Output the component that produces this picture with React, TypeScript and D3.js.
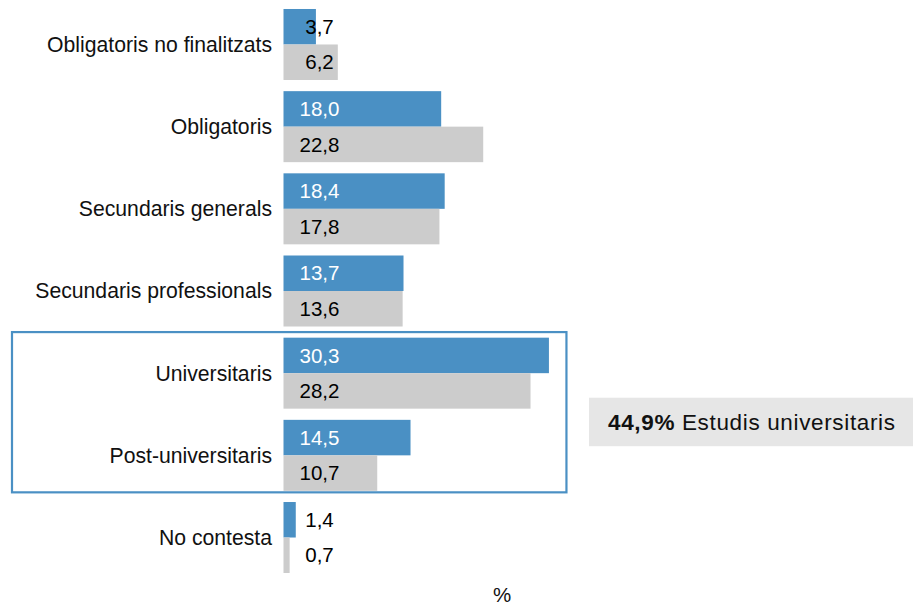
import * as d3 from 'd3'
import { FC, useEffect, useRef } from 'react'

// categories (top to bottom)
const categories = [
  'Obligatoris no finalitzats',
  'Obligatoris',
  'Secundaris generals',
  'Secundaris professionals',
  'Universitaris',
  'Post-universitaris',
  'No contesta',
]
// blue series and grey series (%)
const blueValues = [3.7, 18.0, 18.4, 13.7, 30.3, 14.5, 1.4]
const greyValues = [6.2, 22.8, 17.8, 13.6, 28.2, 10.7, 0.7]
const seriesKeys = ['blue', 'grey']
// highlighted group and its summary
const highlighted = ['Universitaris', 'Post-universitaris']
const summaryValue = 44.9
const summaryText = 'Estudis universitaris'
const axisTitle = '%'

const width = 913
const height = 605
const font = '"Liberation Sans", Arial, sans-serif'
const blue = '#4A90C4'
const grey = '#CCCCCC'

const locale = d3.formatLocale({ decimal: ',', thousands: '.', grouping: [3], currency: ['', '€'] })
const fmt = locale.format('.1f')

const App: FC = () => {
  const chartRef = useRef<SVGSVGElement>(null)

  useEffect(() => {
    document.body.style.margin = '0'
    const svg = d3.select(chartRef.current)
    svg.selectAll('*').remove()

    const rows = categories.map((c, i) => ({ cat: c, blue: blueValues[i], grey: greyValues[i] }))

    // scales
    const xScale = d3.scaleLinear().domain([0, 35]).range([283.5, 283.5 + 35 * 8.76])
    const yScale = d3
      .scaleBand()
      .domain(categories)
      .range([3.4, 578.6])
      .paddingInner(0.136)
      .paddingOuter(0.068)
    const ySub = d3.scaleBand().domain(seriesKeys).range([0, yScale.bandwidth()])

    // highlight box around university rows
    const gap = (yScale.step() - yScale.bandwidth()) / 2
    const boxTop = (yScale(highlighted[0]) as number) - gap
    const boxBottom = (yScale(highlighted[1]) as number) + yScale.bandwidth() + 1.5
    svg
      .append('rect')
      .attr('x', 12)
      .attr('y', boxTop)
      .attr('width', xScale(32.3) - 12)
      .attr('height', boxBottom - boxTop)
      .attr('fill', 'none')
      .attr('stroke', blue)
      .attr('stroke-width', 2.2)

    // bars
    const groups = svg
      .append('g')
      .selectAll('g')
      .data(rows)
      .enter()
      .append('g')
      .attr('transform', (d) => `translate(0, ${yScale(d.cat)})`)

    seriesKeys.forEach((key) => {
      groups
        .append('rect')
        .attr('x', xScale(0))
        .attr('y', ySub(key) as number)
        .attr('width', (d: any) => xScale(d[key]) - xScale(0))
        .attr('height', ySub.bandwidth())
        .attr('fill', key === 'blue' ? blue : grey)

      groups
        .append('text')
        .attr('x', xScale(0) + 36)
        .attr('y', (ySub(key) as number) + ySub.bandwidth() / 2)
        .attr('dy', '0.35em')
        .attr('text-anchor', 'middle')
        .style('font-family', font)
        .style('font-size', '20.5px')
        .attr('fill', (d: any) => (key === 'blue' && d[key] > 5 ? '#ffffff' : '#000000'))
        .text((d: any) => fmt(d[key]))
    })

    // category labels
    svg
      .append('g')
      .selectAll('text')
      .data(categories)
      .enter()
      .append('text')
      .attr('x', 272)
      .attr('y', (d) => (yScale(d) as number) + yScale.bandwidth() / 2)
      .attr('dy', '0.35em')
      .attr('text-anchor', 'end')
      .style('font-family', font)
      .style('font-size', '21.2px')
      .attr('fill', '#111')
      .text((d) => d)

    // summary box
    const midY = (boxTop + boxBottom) / 2
    svg
      .append('rect')
      .attr('x', 589)
      .attr('y', midY - 14.5)
      .attr('width', width - 589)
      .attr('height', 48.5)
      .attr('fill', '#E6E6E6')
    const summary = svg
      .append('text')
      .attr('x', 608)
      .attr('y', midY + 18)
      .attr('textLength', 287)
      .style('font-family', font)
      .style('font-size', '22.5px')
      .attr('fill', '#111')
    summary.append('tspan').style('font-weight', 'bold').text(fmt(summaryValue) + '%')
    summary.append('tspan').text(' ' + summaryText)

    // axis title
    svg
      .append('text')
      .attr('x', 502)
      .attr('y', 602)
      .attr('text-anchor', 'middle')
      .style('font-family', font)
      .style('font-size', '20.5px')
      .attr('fill', '#111')
      .text(axisTitle)
  }, [])

  return <svg ref={chartRef} width={width} height={height} style={{ display: 'block', background: '#fff' }} />
}

export default App
